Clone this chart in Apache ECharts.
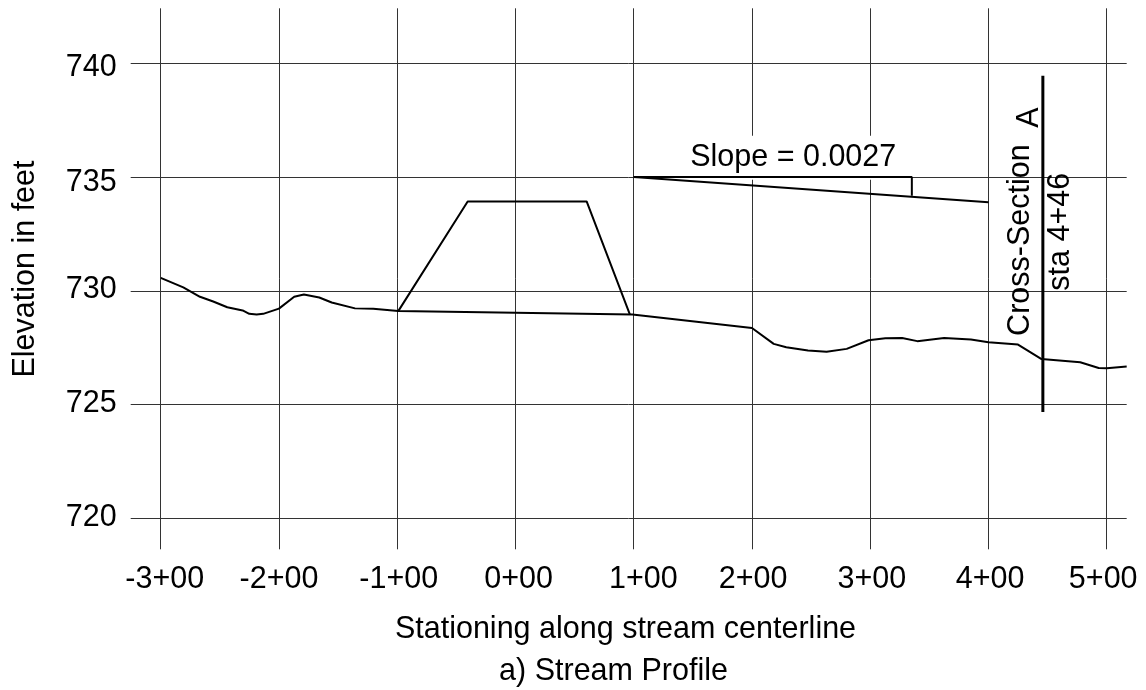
<!DOCTYPE html>
<html><head><meta charset="utf-8">
<style>html,body{margin:0;padding:0;background:#fff}#c{width:1146px;height:690px}</style>
<script src="https://cdn.jsdelivr.net/npm/echarts@6/dist/echarts.min.js"></script>
</head><body><div id="c"></div>
<script>
const xTickValues = [-3,-2,-1,0,1,2,3,4,5];
const xTickLabels = ['-3+00','-2+00','-1+00','0+00','1+00','2+00','3+00','4+00','5+00'];
const yTickValues = [720,725,730,735,740];
const profile = [[-3,730.57],[-2.809,730.15],[-2.668,729.74],[-2.556,729.53],[-2.437,729.28],[-2.307,729.14],[-2.251,728.99],[-2.189,728.96],[-2.133,728.99],[-2,729.22],[-1.871,729.74],[-1.789,729.84],[-1.659,729.71],[-1.554,729.49],[-1.357,729.23],[-1.203,729.21],[-0.991,729.11],[0.989,728.96],[2,728.37],[2.184,727.67],[2.29,727.52],[2.474,727.38],[2.631,727.32],[2.801,727.45],[2.986,727.83],[3.128,727.92],[3.27,727.93],[3.398,727.79],[3.625,727.93],[3.852,727.86],[4.0,727.74],[4.25,727.64],[4.449,727],[4.776,726.86],[4.932,726.61],[5,726.6],[5.169,726.68]];
const embankment = [[-0.991,729.11],[-0.404,733.93],[0.602,733.93],[0.968,728.96]];
const slopeLine = [[1,735],[4,733.9]];
const slopeRise = [[1,735],[3.352,735],[3.352,734.18]];
const sectionLine = [[4.46,739.45],[4.46,724.67]];
const slopeText = [[2.349,735.85,'Slope = 0.0027']];
const sectionText = [[4.274,732.23,'Cross-Section'],[4.346,737.62,'A']];
const staText = [[4.606,732.6,'sta 4+46']];
const xName = 'Stationing along stream centerline';
const subName = 'a) Stream Profile';
const yName = 'Elevation in feet';

const font = '"Liberation Sans", Arial, sans-serif';
const size = 30.5;
// small per-label nudges in pixels, as in the reference's hand-placed tick labels
const xNudge = [4,0,1.5,3.2,9.7,1.2,1.6,1.6,-3.5];
const yNudge = [-0.5,-1,-1,5.5,4.5];
const xRich = {}, yRich = {};
xNudge.forEach((s,i)=>{ xRich['x'+i] = {padding: s>=0 ? [0,0,0,2*s] : [0,-2*s,0,0], fontFamily:font, fontSize:size, color:'#000'}; });
yNudge.forEach((s,i)=>{ yRich['y'+i] = {padding: s>=0 ? [2*s,0,0,0] : [0,0,-2*s,0], fontFamily:font, fontSize:size, color:'#000'}; });

const line = (data, width) => ({type:'line', data, symbol:'none', smooth:false, animation:false, silent:true,
  lineStyle:{color:'#000', width}, z:5});
const text = (data, z, extra) => ({type:'scatter', data, symbolSize:0, animation:false, silent:true, z,
  itemStyle:{opacity:1},
  label:Object.assign({show:true, position:'inside', color:'#000', opacity:1, fontFamily:font, fontSize:size,
    formatter:p=>p.data[2]}, extra)});

const chart = echarts.init(document.getElementById('c'), null, {renderer:'canvas'});
chart.setOption({
  animation:false,
  backgroundColor:'#fff',
  grid:{left:130.7, right:19.3, top:8.3, bottom:140.7},
  title:[
    {text:xName, left:625.5, top:614, padding:0, textAlign:'center', textStyle:{color:'#000', fontFamily:font, fontSize:size, fontWeight:'normal'}},
    {text:subName, left:613.5, top:656, padding:0, textAlign:'center', textStyle:{color:'#000', fontFamily:font, fontSize:size, fontWeight:'normal'}}
  ],
  graphic:[{type:'text', rotation:Math.PI/2, x:26, y:269, silent:true,
    style:{text:yName, fill:'#000', font:size+'px '+font, align:'center', verticalAlign:'middle'}}],
  xAxis:{type:'value', min:-3.2537, max:5.169,
    axisLine:{show:false},
    axisTick:{show:false, customValues:xTickValues},
    axisLabel:{customValues:xTickValues, margin:15, color:'#000', fontFamily:font, fontSize:size, rich:xRich,
      formatter:v=>{const i=xTickValues.indexOf(v); return i<0?'':'{x'+i+'|'+xTickLabels[i]+'}';}},
    splitLine:{show:true, lineStyle:{color:'#333', width:1}}},
  yAxis:{type:'value', min:718.64, max:742.42,
    axisLine:{show:false},
    axisTick:{show:false, customValues:yTickValues},
    axisLabel:{customValues:yTickValues, margin:14, color:'#000', fontFamily:font, fontSize:size, rich:yRich,
      formatter:v=>{const i=yTickValues.indexOf(v); return i<0?'':'{y'+i+'|'+v+'}';}},
    splitLine:{show:true, lineStyle:{color:'#333', width:1}}},
  series:[
    text(slopeText,1,{backgroundColor:'#fff', padding:[12.8,12,0,12]}),
    line(profile,2), line(embankment,2), line(slopeLine,2), line(slopeRise,2), line(sectionLine,3),
    text(sectionText,6,{rotate:90}),
    text(staText,6,{rotate:90})
  ]
});
</script></body></html>
